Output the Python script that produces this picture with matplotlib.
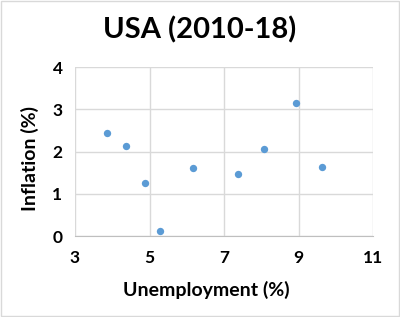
import matplotlib.pyplot as plt
from matplotlib.patches import Rectangle

years = [2010, 2011, 2012, 2013, 2014, 2015, 2016, 2017, 2018]
unemployment = [9.63, 8.93, 8.07, 7.38, 6.16, 5.28, 4.87, 4.36, 3.87]
inflation = [1.64, 3.16, 2.07, 1.46, 1.62, 0.12, 1.26, 2.13, 2.44]

x_ticks = [3, 5, 7, 9, 11]
y_ticks = [0, 1, 2, 3, 4]

plt.rcParams['font.family'] = ['Lato', 'DejaVu Sans']

fig = plt.figure(figsize=(4, 3.17), dpi=100)
ax = fig.add_axes([0.1875, 0.2555, 0.745, 0.533])

ax.scatter(unemployment, inflation, s=28, color='#5b9bd5', zorder=3, linewidths=0)

ax.set_xlim(3, 11)
ax.set_ylim(0, 4)
ax.set_xticks(x_ticks)
ax.set_yticks(y_ticks)
ax.grid(True, color='#d9d9d9', linewidth=1)
ax.set_axisbelow(True)
for side in ['left', 'right', 'top']:
    ax.spines[side].set_visible(False)
ax.spines['bottom'].set_color('#bfbfbf')
ax.tick_params(length=0, labelsize=12.5, pad=9, colors='#000000')
for lbl in ax.get_xticklabels() + ax.get_yticklabels():
    lbl.set_fontweight('bold')
ax.tick_params(axis='x', pad=10)

fig.text(0.5, 0.905, "USA (2010-18)", ha='center', va='center', fontsize=21, fontweight='bold')
fig.text(0.517, 0.085, "Unemployment (%)", ha='center', va='center', fontsize=14, fontweight='bold')
fig.text(0.075, 0.5, "Inflation (%)", ha='center', va='center', fontsize=14, fontweight='bold', rotation=90)

fig.patches.append(Rectangle((0.002, 0.002), 0.996, 0.996, transform=fig.transFigure,
                             fill=False, edgecolor='#d9d9d9', linewidth=1))

fig.savefig('out.png', dpi=100)
